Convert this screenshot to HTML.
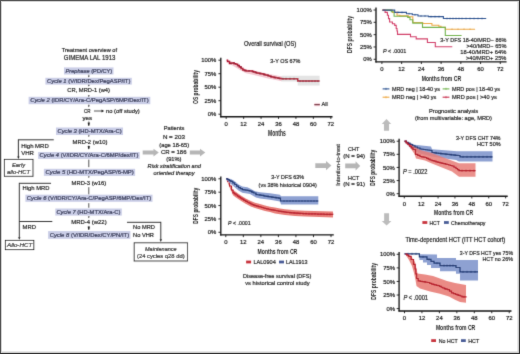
<!DOCTYPE html>
<html><head><meta charset="utf-8"><title>GIMEMA LAL 1913</title>
<style>
html,body{margin:0;padding:0;background:#fff;}
body{width:520px;height:354px;position:relative;overflow:hidden;font-family:"Liberation Sans", sans-serif;}
text{stroke-width:0.2px;}
text[font-weight="bold"]{stroke-width:0;}
</style></head><body>
<svg xmlns="http://www.w3.org/2000/svg" width="520" height="354" viewBox="0 0 520 354" style="position:absolute;left:0;top:0" font-family='"Liberation Sans", sans-serif'>
<defs><filter id="soft" x="0" y="0" width="520" height="354" filterUnits="userSpaceOnUse"><feConvolveMatrix order="3" kernelMatrix="0.01134 0.08382 0.01134 0.08382 0.61935 0.08382 0.01134 0.08382 0.01134" edgeMode="none"/></filter></defs>
<rect x="0" y="0" width="520" height="354" fill="#ffffff"/>
<g filter="url(#soft)">
<rect x="64.00" y="67.40" width="49.50" height="7.10" fill="#cacee7" stroke="none" stroke-width="1.00"/>
<text x="65.60" y="72.90" font-size="5.60" fill="#2f3350" stroke="#2f3350" font-weight="normal" font-style="normal" textLength="46.60" lengthAdjust="spacingAndGlyphs"><tspan font-style="italic">Prephase</tspan><tspan font-style="normal"> (PD/CY)</tspan></text>
<rect x="45.40" y="77.80" width="86.40" height="6.80" fill="#cacee7" stroke="none" stroke-width="1.00"/>
<text x="47.00" y="83.15" font-size="5.60" fill="#2f3350" stroke="#2f3350" font-weight="normal" font-style="normal" textLength="83.40" lengthAdjust="spacingAndGlyphs"><tspan font-style="italic">Cycle 1</tspan><tspan font-style="normal"> (V/IDR/Dex/PegASP/IT)</tspan></text>
<rect x="28.60" y="96.80" width="121.70" height="7.40" fill="#cacee7" stroke="none" stroke-width="1.00"/>
<text x="30.20" y="102.45" font-size="5.60" fill="#2f3350" stroke="#2f3350" font-weight="normal" font-style="normal" textLength="118.40" lengthAdjust="spacingAndGlyphs"><tspan font-style="italic">Cycle 2</tspan><tspan font-style="normal"> (IDR/CY/Ara-C/PegASP/6MP/Dex/IT)</tspan></text>
<rect x="56.00" y="127.50" width="67.00" height="7.50" fill="#cacee7" stroke="none" stroke-width="1.00"/>
<text x="57.50" y="133.20" font-size="5.60" fill="#2f3350" stroke="#2f3350" font-weight="normal" font-style="normal" textLength="64.10" lengthAdjust="spacingAndGlyphs"><tspan font-style="italic">Cycle 3</tspan><tspan font-style="normal"> (HD-MTX/Ara-C)</tspan></text>
<rect x="38.10" y="152.00" width="101.60" height="6.90" fill="#cacee7" stroke="none" stroke-width="1.00"/>
<text x="39.50" y="157.40" font-size="5.60" fill="#2f3350" stroke="#2f3350" font-weight="normal" font-style="normal" textLength="98.90" lengthAdjust="spacingAndGlyphs"><tspan font-style="italic">Cycle 4</tspan><tspan font-style="normal"> (V/IDR/CY/Ara-C/6MP/dex/IT)</tspan></text>
<rect x="43.90" y="168.80" width="91.20" height="7.10" fill="#cacee7" stroke="none" stroke-width="1.00"/>
<text x="45.40" y="174.30" font-size="5.60" fill="#2f3350" stroke="#2f3350" font-weight="normal" font-style="normal" textLength="88.40" lengthAdjust="spacingAndGlyphs"><tspan font-style="italic">Cycle 5</tspan><tspan font-style="normal"> (HD-MTX/PegASP/6-MP)</tspan></text>
<rect x="25.40" y="194.70" width="127.10" height="7.10" fill="#cacee7" stroke="none" stroke-width="1.00"/>
<text x="26.80" y="200.20" font-size="5.60" fill="#2f3350" stroke="#2f3350" font-weight="normal" font-style="normal" textLength="124.40" lengthAdjust="spacingAndGlyphs"><tspan font-style="italic">Cycle 6</tspan><tspan font-style="normal"> (V/IDR/CY/Ara-C/PegASP/6MP/Dex/IT)</tspan></text>
<rect x="55.30" y="208.50" width="66.50" height="7.10" fill="#cacee7" stroke="none" stroke-width="1.00"/>
<text x="56.40" y="214.00" font-size="5.60" fill="#2f3350" stroke="#2f3350" font-weight="normal" font-style="normal" textLength="64.10" lengthAdjust="spacingAndGlyphs"><tspan font-style="italic">Cycle 7</tspan><tspan font-style="normal"> (HD-MTX/Ara-C)</tspan></text>
<rect x="48.10" y="231.10" width="82.30" height="7.70" fill="#cacee7" stroke="none" stroke-width="1.00"/>
<text x="49.70" y="236.90" font-size="5.60" fill="#2f3350" stroke="#2f3350" font-weight="normal" font-style="normal" textLength="79.40" lengthAdjust="spacingAndGlyphs"><tspan font-style="italic">Cycle 8</tspan><tspan font-style="normal"> (V/IDR/Dex/CY/PN/IT)</tspan></text>
<text x="61.80" y="52.10" font-size="5.80" fill="#262626" stroke="#262626" font-weight="normal" font-style="normal" textLength="55.20" lengthAdjust="spacingAndGlyphs">Treatment overview of</text>
<text x="63.80" y="59.60" font-size="6.60" fill="#262626" stroke="#262626" font-weight="normal" font-style="normal" textLength="51.60" lengthAdjust="spacingAndGlyphs">GIMEMA LAL 1913</text>
<text x="67.30" y="92.20" font-size="5.85" fill="#262626" stroke="#262626" font-weight="normal" font-style="normal" textLength="42.70" lengthAdjust="spacingAndGlyphs">CR, MRD-1 (w4)</text>
<text x="84.00" y="113.20" font-size="5.85" fill="#262626" stroke="#262626" font-weight="normal" font-style="normal" textLength="6.50" lengthAdjust="spacingAndGlyphs">CR</text>
<line x1="94.00" y1="111.00" x2="102.00" y2="111.00" stroke="#262626" stroke-width="0.80"/>
<polygon points="101.50,109.60 104.20,111.00 101.50,112.40" fill="#262626"/>
<text x="106.00" y="113.20" font-size="5.85" fill="#262626" stroke="#262626" font-weight="normal" font-style="normal" textLength="33.80" lengthAdjust="spacingAndGlyphs">no (off study)</text>
<text x="82.50" y="120.00" font-size="5.85" fill="#262626" stroke="#262626" font-weight="normal" font-style="normal" textLength="9.50" lengthAdjust="spacingAndGlyphs">yes</text>
<text x="72.50" y="144.20" font-size="5.85" fill="#262626" stroke="#262626" font-weight="normal" font-style="normal" textLength="35.00" lengthAdjust="spacingAndGlyphs">MRD-2 (w10)</text>
<text x="71.60" y="185.30" font-size="5.85" fill="#262626" stroke="#262626" font-weight="normal" font-style="normal" textLength="34.60" lengthAdjust="spacingAndGlyphs">MRD-3 (w16)</text>
<text x="71.20" y="223.90" font-size="5.85" fill="#262626" stroke="#262626" font-weight="normal" font-style="normal" textLength="35.50" lengthAdjust="spacingAndGlyphs">MRD-4 (w22)</text>
<line x1="88.80" y1="74.70" x2="88.80" y2="76.20" stroke="#444" stroke-width="0.70"/>
<polygon points="87.80,75.80 89.80,75.80 88.80,77.40" fill="#444"/>
<line x1="88.80" y1="84.50" x2="88.80" y2="85.40" stroke="#444" stroke-width="0.70"/>
<polygon points="87.80,85.00 89.80,85.00 88.80,86.60" fill="#444"/>
<line x1="88.80" y1="95.00" x2="88.80" y2="96.00" stroke="#444" stroke-width="0.70"/>
<polygon points="87.80,95.60 89.80,95.60 88.80,97.20" fill="#444"/>
<line x1="88.80" y1="104.50" x2="88.80" y2="106.00" stroke="#444" stroke-width="0.70"/>
<polygon points="87.80,105.60 89.80,105.60 88.80,107.20" fill="#444"/>
<line x1="88.80" y1="120.80" x2="88.80" y2="123.50" stroke="#777" stroke-width="0.60"/>
<polygon points="87.70,122.60 89.90,122.60 89.40,125.40 88.80,126.00 88.20,125.40" fill="#222"/>
<line x1="88.80" y1="134.80" x2="88.80" y2="135.80" stroke="#444" stroke-width="0.70"/>
<polygon points="87.80,135.40 89.80,135.40 88.80,137.00" fill="#444"/>
<line x1="88.80" y1="145.20" x2="88.80" y2="146.80" stroke="#777" stroke-width="0.60"/>
<polygon points="87.70,145.90 89.90,145.90 89.40,148.70 88.80,149.30 88.20,148.70" fill="#222"/>
<line x1="88.80" y1="159.50" x2="88.80" y2="167.20" stroke="#555" stroke-width="1.00"/>
<line x1="88.80" y1="175.90" x2="88.80" y2="176.80" stroke="#444" stroke-width="0.70"/>
<polygon points="87.80,176.40 89.80,176.40 88.80,178.00" fill="#444"/>
<line x1="88.80" y1="187.20" x2="88.80" y2="194.40" stroke="#555" stroke-width="1.00"/>
<line x1="88.80" y1="203.20" x2="88.80" y2="207.80" stroke="#555" stroke-width="1.00"/>
<line x1="88.80" y1="216.20" x2="88.80" y2="217.00" stroke="#444" stroke-width="0.70"/>
<polygon points="87.80,216.60 89.80,216.60 88.80,218.20" fill="#444"/>
<line x1="88.80" y1="225.80" x2="88.80" y2="227.50" stroke="#777" stroke-width="0.60"/>
<polygon points="87.70,226.60 89.90,226.60 89.40,229.40 88.80,230.00 88.20,229.40" fill="#222"/>
<line x1="18.40" y1="139.80" x2="53.80" y2="139.80" stroke="#222" stroke-width="0.90"/>
<line x1="18.40" y1="139.35" x2="18.40" y2="157.00" stroke="#222" stroke-width="0.90"/>
<polygon points="17.20,156.60 19.60,156.60 18.40,159.00" fill="#222"/>
<rect x="4.40" y="159.40" width="28.60" height="16.90" fill="#ffffff" stroke="#222" stroke-width="0.90"/>
<text x="21.20" y="148.10" font-size="5.85" fill="#262626" stroke="#262626" font-weight="normal" font-style="normal" textLength="27.50" lengthAdjust="spacingAndGlyphs">High MRD</text>
<text x="21.20" y="155.00" font-size="5.85" fill="#262626" stroke="#262626" font-weight="normal" font-style="normal" textLength="12.70" lengthAdjust="spacingAndGlyphs">VHR</text>
<text x="12.00" y="166.80" font-size="5.85" fill="#262626" stroke="#262626" font-weight="normal" font-style="italic" textLength="13.20" lengthAdjust="spacingAndGlyphs">Early</text>
<text x="7.00" y="173.60" font-size="5.85" fill="#262626" stroke="#262626" font-weight="normal" font-style="italic" textLength="23.20" lengthAdjust="spacingAndGlyphs">allo-HCT</text>
<line x1="19.30" y1="183.30" x2="51.00" y2="183.30" stroke="#222" stroke-width="0.90"/>
<line x1="19.30" y1="182.85" x2="19.30" y2="237.60" stroke="#222" stroke-width="0.90"/>
<line x1="19.30" y1="221.50" x2="52.30" y2="221.50" stroke="#222" stroke-width="0.90"/>
<polygon points="18.10,237.20 20.50,237.20 19.30,239.80" fill="#222"/>
<text x="22.60" y="190.10" font-size="5.85" fill="#262626" stroke="#262626" font-weight="normal" font-style="normal" textLength="26.80" lengthAdjust="spacingAndGlyphs">High MRD</text>
<text x="22.60" y="228.70" font-size="5.85" fill="#262626" stroke="#262626" font-weight="normal" font-style="normal" textLength="13.40" lengthAdjust="spacingAndGlyphs">MRD</text>
<rect x="5.40" y="240.40" width="28.40" height="9.20" fill="#ffffff" stroke="#222" stroke-width="0.90"/>
<text x="7.00" y="247.40" font-size="5.85" fill="#262626" stroke="#262626" font-weight="normal" font-style="italic" textLength="25.20" lengthAdjust="spacingAndGlyphs">Allo-HCT</text>
<line x1="127.00" y1="222.30" x2="160.80" y2="222.30" stroke="#222" stroke-width="0.90"/>
<line x1="160.80" y1="221.85" x2="160.80" y2="239.60" stroke="#222" stroke-width="0.90"/>
<polygon points="159.60,239.30 162.00,239.30 160.80,241.90" fill="#222"/>
<text x="133.00" y="229.20" font-size="5.85" fill="#262626" stroke="#262626" font-weight="normal" font-style="normal" textLength="22.00" lengthAdjust="spacingAndGlyphs">No MRD</text>
<text x="133.00" y="236.60" font-size="5.85" fill="#262626" stroke="#262626" font-weight="normal" font-style="normal" textLength="21.00" lengthAdjust="spacingAndGlyphs">No VHR</text>
<rect x="134.20" y="242.80" width="53.20" height="18.20" fill="#ffffff" stroke="#222" stroke-width="0.90"/>
<text x="145.00" y="250.60" font-size="5.85" fill="#262626" stroke="#262626" font-weight="normal" font-style="italic" textLength="31.60" lengthAdjust="spacingAndGlyphs">Maintenance</text>
<text x="137.00" y="257.80" font-size="5.85" fill="#262626" stroke="#262626" font-weight="normal" font-style="normal" textLength="47.60" lengthAdjust="spacingAndGlyphs">(24 cycles q28 dd)</text>
<text x="163.70" y="129.90" font-size="6.00" fill="#262626" stroke="#262626" font-weight="normal" font-style="normal" textLength="20.70" lengthAdjust="spacingAndGlyphs">Patients</text>
<text x="162.90" y="139.40" font-size="6.00" fill="#262626" stroke="#262626" font-weight="normal" font-style="normal" textLength="22.00" lengthAdjust="spacingAndGlyphs">N = 203</text>
<text x="159.30" y="146.80" font-size="6.00" fill="#262626" stroke="#262626" font-weight="normal" font-style="normal" textLength="29.80" lengthAdjust="spacingAndGlyphs">(age 18-65)</text>
<text x="160.90" y="153.60" font-size="6.00" fill="#262626" stroke="#262626" font-weight="normal" font-style="normal" textLength="25.70" lengthAdjust="spacingAndGlyphs">CR = 186</text>
<text x="166.30" y="160.90" font-size="6.00" fill="#262626" stroke="#262626" font-weight="normal" font-style="normal" textLength="15.20" lengthAdjust="spacingAndGlyphs">(91%)</text>
<text x="147.60" y="168.00" font-size="6.00" fill="#262626" stroke="#262626" font-weight="normal" font-style="italic" textLength="53.40" lengthAdjust="spacingAndGlyphs">Risk stratification and</text>
<text x="153.60" y="175.00" font-size="6.00" fill="#262626" stroke="#262626" font-weight="normal" font-style="italic" textLength="41.00" lengthAdjust="spacingAndGlyphs">oriented therapy</text>
<polygon points="142.70,150.60 153.50,150.60 153.50,148.70 158.80,152.60 153.50,156.50 153.50,154.60 142.70,154.60" fill="#b6b6b6"/>
<polygon points="189.80,150.60 200.00,150.60 200.00,148.70 205.30,152.60 200.00,156.50 200.00,154.60 189.80,154.60" fill="#b6b6b6"/>
<polygon points="315.30,163.15 326.00,163.15 326.00,160.90 331.40,165.60 326.00,170.30 326.00,168.05 315.30,168.05" fill="#b6b6b6"/>
<polygon points="345.20,163.60 355.60,163.60 355.60,161.30 360.20,165.90 355.60,170.50 355.60,168.20 345.20,168.20" fill="#b6b6b6"/>
<polygon points="386.50,118.90 391.20,124.00 389.05,124.00 389.05,130.80 383.95,130.80 383.95,124.00 381.80,124.00" fill="#bcbcbc"/>
<polygon points="384.15,213.30 389.05,213.30 389.05,220.90 391.40,220.90 386.60,225.50 381.80,220.90 384.15,220.90" fill="#bcbcbc"/>
<text x="243.90" y="45.90" font-size="6.40" fill="#262626" stroke="#262626" font-weight="normal" font-style="normal" textLength="52.30" lengthAdjust="spacingAndGlyphs">Overall survival (OS)</text>
<line x1="220.80" y1="57.80" x2="220.80" y2="117.30" stroke="#161616" stroke-width="1.35"/>
<line x1="220.20" y1="116.70" x2="332.50" y2="116.70" stroke="#161616" stroke-width="1.35"/>
<line x1="218.40" y1="60.20" x2="220.80" y2="60.20" stroke="#161616" stroke-width="0.90"/>
<text x="216.30" y="62.30" font-size="5.90" fill="#222" stroke="#222" text-anchor="end">100%</text>
<line x1="218.40" y1="73.70" x2="220.80" y2="73.70" stroke="#161616" stroke-width="0.90"/>
<text x="216.30" y="75.80" font-size="5.90" fill="#222" stroke="#222" text-anchor="end">75%</text>
<line x1="218.40" y1="87.20" x2="220.80" y2="87.20" stroke="#161616" stroke-width="0.90"/>
<text x="216.30" y="89.30" font-size="5.90" fill="#222" stroke="#222" text-anchor="end">50%</text>
<line x1="218.40" y1="100.70" x2="220.80" y2="100.70" stroke="#161616" stroke-width="0.90"/>
<text x="216.30" y="102.80" font-size="5.90" fill="#222" stroke="#222" text-anchor="end">25%</text>
<line x1="218.40" y1="114.20" x2="220.80" y2="114.20" stroke="#161616" stroke-width="0.90"/>
<text x="216.30" y="116.30" font-size="5.90" fill="#222" stroke="#222" text-anchor="end">0%</text>
<line x1="226.20" y1="116.70" x2="226.20" y2="118.90" stroke="#161616" stroke-width="0.90"/>
<text x="226.20" y="126.20" font-size="5.90" fill="#222" stroke="#222" text-anchor="middle">0</text>
<line x1="243.63" y1="116.70" x2="243.63" y2="118.90" stroke="#161616" stroke-width="0.90"/>
<text x="243.63" y="126.20" font-size="5.90" fill="#222" stroke="#222" text-anchor="middle">12</text>
<line x1="261.07" y1="116.70" x2="261.07" y2="118.90" stroke="#161616" stroke-width="0.90"/>
<text x="261.07" y="126.20" font-size="5.90" fill="#222" stroke="#222" text-anchor="middle">24</text>
<line x1="278.50" y1="116.70" x2="278.50" y2="118.90" stroke="#161616" stroke-width="0.90"/>
<text x="278.50" y="126.20" font-size="5.90" fill="#222" stroke="#222" text-anchor="middle">36</text>
<line x1="295.93" y1="116.70" x2="295.93" y2="118.90" stroke="#161616" stroke-width="0.90"/>
<text x="295.93" y="126.20" font-size="5.90" fill="#222" stroke="#222" text-anchor="middle">48</text>
<line x1="313.37" y1="116.70" x2="313.37" y2="118.90" stroke="#161616" stroke-width="0.90"/>
<text x="313.37" y="126.20" font-size="5.90" fill="#222" stroke="#222" text-anchor="middle">60</text>
<line x1="330.80" y1="116.70" x2="330.80" y2="118.90" stroke="#161616" stroke-width="0.90"/>
<text x="330.80" y="126.20" font-size="5.90" fill="#222" stroke="#222" text-anchor="middle">72</text>
<text transform="translate(197.70,87.00) rotate(-90)" x="-16.90" y="0" font-size="7.40" fill="#222" stroke="#222" font-weight="bold" textLength="33.80" lengthAdjust="spacingAndGlyphs">OS probability</text>
<text x="268.00" y="135.80" font-size="8.30" fill="#222" stroke="#222" font-weight="bold" font-style="normal" textLength="17.70" lengthAdjust="spacingAndGlyphs">Months</text>
<text x="270.30" y="63.30" font-size="6.00" fill="#262626" stroke="#262626" font-weight="normal" font-style="normal" textLength="30.10" lengthAdjust="spacingAndGlyphs">3-Y OS 67%</text>
<polygon points="226.60,59.60 232.00,61.50 240.00,65.80 246.00,69.20 256.00,71.00 268.00,73.80 282.00,76.40 282.00,81.20 268.00,78.60 256.00,75.60 246.00,73.20 240.00,70.00 232.00,65.20 226.60,60.80" fill="#f4c9d2"/>
<polygon points="281.50,75.80 319.60,75.80 319.60,85.60 297.70,85.60 297.70,81.40 281.50,81.40" fill="#e4e4e4"/>
<polyline points="226.60,60.20 227.50,60.20 227.50,61.50 229.50,61.50 229.50,63.40 230.95,63.40 230.95,63.25 232.40,63.25 232.40,63.10 234.10,63.10 234.10,63.65 235.80,63.65 235.80,64.20 237.50,64.20 237.50,65.50 239.30,65.50 239.30,67.10 241.05,67.10 241.05,68.55 242.80,68.55 242.80,70.00 244.50,70.00 244.50,70.45 246.20,70.45 246.20,70.90 247.73,70.90 247.73,70.97 249.27,70.97 249.27,71.03 250.80,71.03 250.80,71.10 252.25,71.10 252.25,71.55 253.70,71.55 253.70,72.00 255.15,72.00 255.15,72.45 256.60,72.45 256.60,72.90 258.05,72.90 258.05,73.18 259.50,73.18 259.50,73.45 260.95,73.45 260.95,73.72 262.40,73.72 262.40,74.00 263.82,74.00 263.82,74.45 265.25,74.45 265.25,74.90 266.68,74.90 266.68,75.35 268.10,75.35 268.10,75.80 269.55,75.80 269.55,76.22 271.00,76.22 271.00,76.65 272.45,76.65 272.45,77.08 273.90,77.08 273.90,77.50 276.00,77.50 276.00,77.80 277.83,77.80 277.83,78.13 279.67,78.13 279.67,78.47 281.50,78.47 281.50,78.80 297.70,78.80 297.70,81.10 319.60,81.10" fill="none" stroke="#b0102e" stroke-width="1.50" stroke-linejoin="miter"/>
<line x1="231.00" y1="62.25" x2="231.00" y2="64.25" stroke="#7a0820" stroke-width="0.70"/>
<line x1="234.00" y1="62.10" x2="234.00" y2="64.10" stroke="#7a0820" stroke-width="0.70"/>
<line x1="238.00" y1="64.50" x2="238.00" y2="66.50" stroke="#7a0820" stroke-width="0.70"/>
<line x1="241.00" y1="66.10" x2="241.00" y2="68.10" stroke="#7a0820" stroke-width="0.70"/>
<line x1="245.00" y1="69.45" x2="245.00" y2="71.45" stroke="#7a0820" stroke-width="0.70"/>
<line x1="249.00" y1="69.97" x2="249.00" y2="71.97" stroke="#7a0820" stroke-width="0.70"/>
<line x1="253.00" y1="70.55" x2="253.00" y2="72.55" stroke="#7a0820" stroke-width="0.70"/>
<line x1="256.00" y1="71.45" x2="256.00" y2="73.45" stroke="#7a0820" stroke-width="0.70"/>
<line x1="260.00" y1="72.45" x2="260.00" y2="74.45" stroke="#7a0820" stroke-width="0.70"/>
<line x1="264.00" y1="73.45" x2="264.00" y2="75.45" stroke="#7a0820" stroke-width="0.70"/>
<line x1="268.00" y1="74.35" x2="268.00" y2="76.35" stroke="#7a0820" stroke-width="0.70"/>
<line x1="271.00" y1="75.65" x2="271.00" y2="77.65" stroke="#7a0820" stroke-width="0.70"/>
<line x1="275.00" y1="76.50" x2="275.00" y2="78.50" stroke="#7a0820" stroke-width="0.70"/>
<line x1="279.00" y1="77.13" x2="279.00" y2="79.13" stroke="#7a0820" stroke-width="0.70"/>
<line x1="283.00" y1="77.80" x2="283.00" y2="79.80" stroke="#7a0820" stroke-width="0.70"/>
<line x1="286.00" y1="77.80" x2="286.00" y2="79.80" stroke="#7a0820" stroke-width="0.70"/>
<line x1="290.00" y1="77.80" x2="290.00" y2="79.80" stroke="#7a0820" stroke-width="0.70"/>
<line x1="294.00" y1="77.80" x2="294.00" y2="79.80" stroke="#7a0820" stroke-width="0.70"/>
<line x1="300.00" y1="80.10" x2="300.00" y2="82.10" stroke="#7a0820" stroke-width="0.70"/>
<line x1="303.00" y1="80.10" x2="303.00" y2="82.10" stroke="#7a0820" stroke-width="0.70"/>
<line x1="306.00" y1="80.10" x2="306.00" y2="82.10" stroke="#7a0820" stroke-width="0.70"/>
<line x1="309.00" y1="80.10" x2="309.00" y2="82.10" stroke="#7a0820" stroke-width="0.70"/>
<line x1="312.00" y1="80.10" x2="312.00" y2="82.10" stroke="#7a0820" stroke-width="0.70"/>
<line x1="315.00" y1="80.10" x2="315.00" y2="82.10" stroke="#7a0820" stroke-width="0.70"/>
<line x1="318.00" y1="80.10" x2="318.00" y2="82.10" stroke="#7a0820" stroke-width="0.70"/>
<rect x="314.20" y="102.90" width="5.80" height="3.40" fill="#f9dde4" stroke="none" stroke-width="1.00"/>
<line x1="314.40" y1="104.60" x2="319.80" y2="104.60" stroke="#701024" stroke-width="1.30"/>
<text x="321.50" y="106.30" font-size="6.00" fill="#262626" stroke="#262626" font-weight="normal" font-style="normal" textLength="6.20" lengthAdjust="spacingAndGlyphs">All</text>
<line x1="220.80" y1="176.40" x2="220.80" y2="235.50" stroke="#161616" stroke-width="1.35"/>
<line x1="220.20" y1="234.90" x2="333.80" y2="234.90" stroke="#161616" stroke-width="1.35"/>
<line x1="218.40" y1="178.80" x2="220.80" y2="178.80" stroke="#161616" stroke-width="0.90"/>
<text x="216.30" y="180.90" font-size="5.90" fill="#222" stroke="#222" text-anchor="end">100%</text>
<line x1="218.40" y1="192.18" x2="220.80" y2="192.18" stroke="#161616" stroke-width="0.90"/>
<text x="216.30" y="194.28" font-size="5.90" fill="#222" stroke="#222" text-anchor="end">75%</text>
<line x1="218.40" y1="205.55" x2="220.80" y2="205.55" stroke="#161616" stroke-width="0.90"/>
<text x="216.30" y="207.65" font-size="5.90" fill="#222" stroke="#222" text-anchor="end">50%</text>
<line x1="218.40" y1="218.93" x2="220.80" y2="218.93" stroke="#161616" stroke-width="0.90"/>
<text x="216.30" y="221.03" font-size="5.90" fill="#222" stroke="#222" text-anchor="end">25%</text>
<line x1="218.40" y1="232.30" x2="220.80" y2="232.30" stroke="#161616" stroke-width="0.90"/>
<text x="216.30" y="234.40" font-size="5.90" fill="#222" stroke="#222" text-anchor="end">0%</text>
<line x1="225.80" y1="234.90" x2="225.80" y2="237.10" stroke="#161616" stroke-width="0.90"/>
<text x="225.80" y="244.30" font-size="5.90" fill="#222" stroke="#222" text-anchor="middle">0</text>
<line x1="243.33" y1="234.90" x2="243.33" y2="237.10" stroke="#161616" stroke-width="0.90"/>
<text x="243.33" y="244.30" font-size="5.90" fill="#222" stroke="#222" text-anchor="middle">12</text>
<line x1="260.87" y1="234.90" x2="260.87" y2="237.10" stroke="#161616" stroke-width="0.90"/>
<text x="260.87" y="244.30" font-size="5.90" fill="#222" stroke="#222" text-anchor="middle">24</text>
<line x1="278.40" y1="234.90" x2="278.40" y2="237.10" stroke="#161616" stroke-width="0.90"/>
<text x="278.40" y="244.30" font-size="5.90" fill="#222" stroke="#222" text-anchor="middle">36</text>
<line x1="295.93" y1="234.90" x2="295.93" y2="237.10" stroke="#161616" stroke-width="0.90"/>
<text x="295.93" y="244.30" font-size="5.90" fill="#222" stroke="#222" text-anchor="middle">48</text>
<line x1="313.47" y1="234.90" x2="313.47" y2="237.10" stroke="#161616" stroke-width="0.90"/>
<text x="313.47" y="244.30" font-size="5.90" fill="#222" stroke="#222" text-anchor="middle">60</text>
<line x1="331.00" y1="234.90" x2="331.00" y2="237.10" stroke="#161616" stroke-width="0.90"/>
<text x="331.00" y="244.30" font-size="5.90" fill="#222" stroke="#222" text-anchor="middle">72</text>
<text transform="translate(197.50,205.70) rotate(-90)" x="-18.00" y="0" font-size="7.40" fill="#222" stroke="#222" font-weight="bold" textLength="36.00" lengthAdjust="spacingAndGlyphs">DFS probability</text>
<text x="257.50" y="253.90" font-size="7.80" fill="#222" stroke="#222" font-weight="bold" font-style="normal" textLength="39.80" lengthAdjust="spacingAndGlyphs">Months from CR</text>
<text x="271.30" y="179.40" font-size="6.10" fill="#262626" stroke="#262626" font-weight="normal" font-style="normal" textLength="32.70" lengthAdjust="spacingAndGlyphs">3-Y DFS 63%</text>
<text x="258.60" y="186.60" font-size="6.10" fill="#262626" stroke="#262626" font-weight="normal" font-style="normal" textLength="58.20" lengthAdjust="spacingAndGlyphs">(vs 38% historical 0904)</text>
<text x="228.10" y="225.20" font-size="6.00" fill="#262626" stroke="#262626" font-weight="normal" font-style="normal" textLength="22.60" lengthAdjust="spacingAndGlyphs"><tspan font-style="italic">P</tspan><tspan font-style="normal"> &lt; .0001</tspan></text>
<polygon points="226.10,178.30 227.70,180.20 229.60,184.80 231.50,188.80 233.00,189.90 236.00,192.10 239.00,194.30 242.00,196.30 245.70,198.50 250.80,201.10 255.00,202.70 260.00,204.10 265.00,205.60 270.00,206.70 275.00,207.60 280.00,208.40 285.00,209.30 295.00,210.20 305.00,210.80 333.00,211.60 333.00,217.40 305.00,216.60 295.00,216.00 285.00,215.10 280.00,214.20 275.00,213.40 270.00,212.00 265.00,210.90 260.00,209.40 255.00,208.00 250.80,206.40 245.70,203.80 242.00,201.60 239.00,199.60 236.00,197.40 233.00,195.20 231.50,191.40 229.60,187.40 227.70,182.80 226.10,179.30" fill="#e87e78"/>
<polyline points="226.10,178.80 227.70,178.80 227.70,181.40 229.60,181.40 229.60,186.00 231.50,186.00 231.50,190.00 233.00,190.00 233.00,192.80 234.50,192.80 234.50,193.90 236.00,193.90 236.00,195.00 237.50,195.00 237.50,196.10 239.00,196.10 239.00,197.20 240.50,197.20 240.50,198.20 242.00,198.20 242.00,199.20 243.85,199.20 243.85,200.30 245.70,200.30 245.70,201.40 247.40,201.40 247.40,202.27 249.10,202.27 249.10,203.13 250.80,203.13 250.80,204.00 252.20,204.00 252.20,204.53 253.60,204.53 253.60,205.07 255.00,205.07 255.00,205.60 256.67,205.60 256.67,206.07 258.33,206.07 258.33,206.53 260.00,206.53 260.00,207.00 261.67,207.00 261.67,207.50 263.33,207.50 263.33,208.00 265.00,208.00 265.00,208.50 266.67,208.50 266.67,208.87 268.33,208.87 268.33,209.23 270.00,209.23 270.00,209.60 271.67,209.60 271.67,209.90 273.33,209.90 273.33,210.20 275.00,210.20 275.00,210.50 276.67,210.50 276.67,210.77 278.33,210.77 278.33,211.03 280.00,211.03 280.00,211.30 281.67,211.30 281.67,211.60 283.33,211.60 283.33,211.90 285.00,211.90 285.00,212.20 286.67,212.20 286.67,212.35 288.33,212.35 288.33,212.50 290.00,212.50 290.00,212.65 291.67,212.65 291.67,212.80 293.33,212.80 293.33,212.95 295.00,212.95 295.00,213.10 296.67,213.10 296.67,213.20 298.33,213.20 298.33,213.30 300.00,213.30 300.00,213.40 301.67,213.40 301.67,213.50 303.33,213.50 303.33,213.60 305.00,213.60 305.00,213.70 306.56,213.70 306.56,213.74 308.11,213.74 308.11,213.79 309.67,213.79 309.67,213.83 311.22,213.83 311.22,213.88 312.78,213.88 312.78,213.92 314.33,213.92 314.33,213.97 315.89,213.97 315.89,214.01 317.44,214.01 317.44,214.06 319.00,214.06 319.00,214.10 320.56,214.10 320.56,214.14 322.11,214.14 322.11,214.19 323.67,214.19 323.67,214.23 325.22,214.23 325.22,214.28 326.78,214.28 326.78,214.32 328.33,214.32 328.33,214.37 329.89,214.37 329.89,214.41 331.44,214.41 331.44,214.46 333.00,214.46 333.00,214.50" fill="none" stroke="#b51227" stroke-width="1.20" stroke-linejoin="miter"/>
<line x1="290.00" y1="211.65" x2="290.00" y2="213.65" stroke="#b51227" stroke-width="0.60"/>
<line x1="294.00" y1="211.95" x2="294.00" y2="213.95" stroke="#b51227" stroke-width="0.60"/>
<line x1="297.00" y1="212.20" x2="297.00" y2="214.20" stroke="#b51227" stroke-width="0.60"/>
<line x1="300.00" y1="212.40" x2="300.00" y2="214.40" stroke="#b51227" stroke-width="0.60"/>
<line x1="303.00" y1="212.50" x2="303.00" y2="214.50" stroke="#b51227" stroke-width="0.60"/>
<line x1="306.00" y1="212.70" x2="306.00" y2="214.70" stroke="#b51227" stroke-width="0.60"/>
<line x1="309.00" y1="212.79" x2="309.00" y2="214.79" stroke="#b51227" stroke-width="0.60"/>
<line x1="312.00" y1="212.88" x2="312.00" y2="214.88" stroke="#b51227" stroke-width="0.60"/>
<line x1="315.00" y1="212.97" x2="315.00" y2="214.97" stroke="#b51227" stroke-width="0.60"/>
<line x1="318.00" y1="213.06" x2="318.00" y2="215.06" stroke="#b51227" stroke-width="0.60"/>
<line x1="321.00" y1="213.14" x2="321.00" y2="215.14" stroke="#b51227" stroke-width="0.60"/>
<line x1="324.00" y1="213.23" x2="324.00" y2="215.23" stroke="#b51227" stroke-width="0.60"/>
<line x1="327.00" y1="213.32" x2="327.00" y2="215.32" stroke="#b51227" stroke-width="0.60"/>
<line x1="330.00" y1="213.41" x2="330.00" y2="215.41" stroke="#b51227" stroke-width="0.60"/>
<polygon points="226.10,178.20 231.00,179.00 235.00,181.50 238.50,184.60 242.30,186.40 247.40,187.30 250.00,188.60 255.00,191.30 260.00,192.30 270.00,193.30 280.00,194.80 281.00,196.30 318.30,196.30 318.30,204.60 281.00,204.60 280.00,201.50 270.00,199.80 260.00,198.60 256.00,197.60 250.00,194.00 242.30,192.80 238.50,190.60 235.00,187.60 231.00,184.00 226.10,179.40" fill="#8ea1d2"/>
<polyline points="226.10,178.80 227.70,178.80 227.70,179.67 229.30,179.67 229.30,180.53 230.90,180.53 230.90,181.40 232.80,181.40 232.80,182.95 234.70,182.95 234.70,184.50 236.60,184.50 236.60,186.10 238.50,186.10 238.50,187.70 240.40,187.70 240.40,188.65 242.30,188.65 242.30,189.60 244.00,189.60 244.00,189.83 245.70,189.83 245.70,190.07 247.40,190.07 247.40,190.30 248.70,190.30 248.70,190.70 250.00,190.70 250.00,191.10 251.90,191.10 251.90,192.05 253.80,192.05 253.80,193.00 256.00,193.00 256.00,194.50 257.37,194.50 257.37,194.73 258.73,194.73 258.73,194.97 260.10,194.97 260.10,195.20 261.70,195.20 261.70,195.47 263.30,195.47 263.30,195.75 264.90,195.75 264.90,196.03 266.50,196.03 266.50,196.30 268.25,196.30 268.25,196.60 270.00,196.60 270.00,196.90 271.67,196.90 271.67,197.13 273.33,197.13 273.33,197.37 275.00,197.37 275.00,197.60 276.83,197.60 276.83,197.83 278.67,197.83 278.67,198.07 280.50,198.07 280.50,198.30 280.50,201.00 318.30,201.00" fill="none" stroke="#163470" stroke-width="1.20" stroke-linejoin="miter"/>
<line x1="252.00" y1="191.05" x2="252.00" y2="193.05" stroke="#163470" stroke-width="0.60"/>
<line x1="256.00" y1="193.50" x2="256.00" y2="195.50" stroke="#163470" stroke-width="0.60"/>
<line x1="260.00" y1="193.97" x2="260.00" y2="195.97" stroke="#163470" stroke-width="0.60"/>
<line x1="264.00" y1="194.75" x2="264.00" y2="196.75" stroke="#163470" stroke-width="0.60"/>
<line x1="268.00" y1="195.30" x2="268.00" y2="197.30" stroke="#163470" stroke-width="0.60"/>
<line x1="272.00" y1="196.13" x2="272.00" y2="198.13" stroke="#163470" stroke-width="0.60"/>
<line x1="276.00" y1="196.60" x2="276.00" y2="198.60" stroke="#163470" stroke-width="0.60"/>
<line x1="279.00" y1="197.07" x2="279.00" y2="199.07" stroke="#163470" stroke-width="0.60"/>
<line x1="284.00" y1="200.00" x2="284.00" y2="202.00" stroke="#163470" stroke-width="0.60"/>
<line x1="287.00" y1="200.00" x2="287.00" y2="202.00" stroke="#163470" stroke-width="0.60"/>
<line x1="290.00" y1="200.00" x2="290.00" y2="202.00" stroke="#163470" stroke-width="0.60"/>
<line x1="293.00" y1="200.00" x2="293.00" y2="202.00" stroke="#163470" stroke-width="0.60"/>
<line x1="296.00" y1="200.00" x2="296.00" y2="202.00" stroke="#163470" stroke-width="0.60"/>
<line x1="299.00" y1="200.00" x2="299.00" y2="202.00" stroke="#163470" stroke-width="0.60"/>
<line x1="302.00" y1="200.00" x2="302.00" y2="202.00" stroke="#163470" stroke-width="0.60"/>
<line x1="305.00" y1="200.00" x2="305.00" y2="202.00" stroke="#163470" stroke-width="0.60"/>
<line x1="308.00" y1="200.00" x2="308.00" y2="202.00" stroke="#163470" stroke-width="0.60"/>
<line x1="311.00" y1="200.00" x2="311.00" y2="202.00" stroke="#163470" stroke-width="0.60"/>
<line x1="314.00" y1="200.00" x2="314.00" y2="202.00" stroke="#163470" stroke-width="0.60"/>
<line x1="317.00" y1="200.00" x2="317.00" y2="202.00" stroke="#163470" stroke-width="0.60"/>
<rect x="246.10" y="260.60" width="5.00" height="2.80" fill="#c8343e" stroke="none" stroke-width="1.00"/>
<text x="253.40" y="264.00" font-size="6.10" fill="#262626" stroke="#262626" font-weight="normal" font-style="normal" textLength="22.40" lengthAdjust="spacingAndGlyphs">LAL0904</text>
<rect x="279.00" y="260.60" width="5.00" height="2.80" fill="#4a5c96" stroke="none" stroke-width="1.00"/>
<text x="285.90" y="264.00" font-size="6.10" fill="#262626" stroke="#262626" font-weight="normal" font-style="normal" textLength="21.60" lengthAdjust="spacingAndGlyphs">LAL1913</text>
<text x="242.90" y="278.30" font-size="5.90" fill="#262626" stroke="#262626" font-weight="normal" font-style="normal" textLength="68.40" lengthAdjust="spacingAndGlyphs">Disease-free survival (DFS)</text>
<text x="245.20" y="284.80" font-size="5.90" fill="#262626" stroke="#262626" font-weight="normal" font-style="normal" textLength="64.40" lengthAdjust="spacingAndGlyphs">vs historical control study</text>
<line x1="376.00" y1="7.60" x2="376.00" y2="62.40" stroke="#161616" stroke-width="1.35"/>
<line x1="375.40" y1="61.80" x2="506.60" y2="61.80" stroke="#161616" stroke-width="1.35"/>
<line x1="373.60" y1="10.00" x2="376.00" y2="10.00" stroke="#161616" stroke-width="0.90"/>
<text x="371.70" y="12.10" font-size="5.90" fill="#222" stroke="#222" text-anchor="end">100%</text>
<line x1="373.60" y1="22.32" x2="376.00" y2="22.32" stroke="#161616" stroke-width="0.90"/>
<text x="371.70" y="24.43" font-size="5.90" fill="#222" stroke="#222" text-anchor="end">75%</text>
<line x1="373.60" y1="34.65" x2="376.00" y2="34.65" stroke="#161616" stroke-width="0.90"/>
<text x="371.70" y="36.75" font-size="5.90" fill="#222" stroke="#222" text-anchor="end">50%</text>
<line x1="373.60" y1="46.97" x2="376.00" y2="46.97" stroke="#161616" stroke-width="0.90"/>
<text x="371.70" y="49.07" font-size="5.90" fill="#222" stroke="#222" text-anchor="end">25%</text>
<line x1="373.60" y1="59.30" x2="376.00" y2="59.30" stroke="#161616" stroke-width="0.90"/>
<text x="371.70" y="61.40" font-size="5.90" fill="#222" stroke="#222" text-anchor="end">0%</text>
<line x1="381.90" y1="61.80" x2="381.90" y2="64.00" stroke="#161616" stroke-width="0.90"/>
<text x="381.90" y="71.00" font-size="5.90" fill="#222" stroke="#222" text-anchor="middle">0</text>
<line x1="401.63" y1="61.80" x2="401.63" y2="64.00" stroke="#161616" stroke-width="0.90"/>
<text x="401.63" y="71.00" font-size="5.90" fill="#222" stroke="#222" text-anchor="middle">12</text>
<line x1="421.37" y1="61.80" x2="421.37" y2="64.00" stroke="#161616" stroke-width="0.90"/>
<text x="421.37" y="71.00" font-size="5.90" fill="#222" stroke="#222" text-anchor="middle">24</text>
<line x1="441.10" y1="61.80" x2="441.10" y2="64.00" stroke="#161616" stroke-width="0.90"/>
<text x="441.10" y="71.00" font-size="5.90" fill="#222" stroke="#222" text-anchor="middle">36</text>
<line x1="460.83" y1="61.80" x2="460.83" y2="64.00" stroke="#161616" stroke-width="0.90"/>
<text x="460.83" y="71.00" font-size="5.90" fill="#222" stroke="#222" text-anchor="middle">48</text>
<line x1="480.57" y1="61.80" x2="480.57" y2="64.00" stroke="#161616" stroke-width="0.90"/>
<text x="480.57" y="71.00" font-size="5.90" fill="#222" stroke="#222" text-anchor="middle">60</text>
<line x1="500.30" y1="61.80" x2="500.30" y2="64.00" stroke="#161616" stroke-width="0.90"/>
<text x="500.30" y="71.00" font-size="5.90" fill="#222" stroke="#222" text-anchor="middle">72</text>
<text transform="translate(352.40,34.50) rotate(-90)" x="-18.45" y="0" font-size="7.30" fill="#222" stroke="#222" font-weight="bold" textLength="36.90" lengthAdjust="spacingAndGlyphs">DFS probability</text>
<text x="421.70" y="80.70" font-size="7.70" fill="#222" stroke="#222" font-weight="bold" font-style="normal" textLength="39.40" lengthAdjust="spacingAndGlyphs">Months from CR</text>
<text x="382.90" y="52.70" font-size="6.00" fill="#262626" stroke="#262626" font-weight="normal" font-style="normal" textLength="23.30" lengthAdjust="spacingAndGlyphs"><tspan font-style="italic">P</tspan><tspan font-style="normal"> &lt; .0001</tspan></text>
<polyline points="382.50,10.10 392.40,10.10 392.40,12.40 397.00,12.40 397.00,15.20 399.80,15.20 399.80,15.90 408.30,15.90 408.30,16.80 412.80,16.80 412.80,22.50 422.70,22.50 422.70,23.50 431.90,23.50 431.90,25.20 438.80,25.20 438.80,26.30 441.00,26.30 441.00,27.30 445.30,27.30 445.30,29.20 475.10,29.20" fill="none" stroke="#eea844" stroke-width="1.10" stroke-linejoin="miter"/>
<polyline points="382.50,10.10 391.30,10.10 391.30,11.80 394.10,11.80 394.10,16.30 407.70,16.30 407.70,17.40 410.00,17.40 410.00,19.70 412.80,19.70 412.80,23.10 422.50,23.10 422.50,27.40 445.30,27.40 445.30,35.50 461.60,35.50" fill="none" stroke="#72b44e" stroke-width="1.10" stroke-linejoin="miter"/>
<polyline points="382.50,10.10 385.10,10.10 385.10,12.40 387.40,12.40 387.40,15.20 388.50,15.20 388.50,18.60 389.60,18.60 389.60,22.00 392.40,22.00 392.40,23.70 394.70,23.70 394.70,25.40 396.20,25.40 396.20,28.50 397.00,28.50 397.00,31.00 397.50,31.00 397.50,34.40 410.50,34.40 410.50,36.70 416.20,36.70 416.20,38.90 427.40,38.90 427.40,42.50 435.30,42.50 435.30,46.80 452.30,46.80" fill="none" stroke="#d2406a" stroke-width="1.10" stroke-linejoin="miter"/>
<polyline points="382.50,10.10 394.70,10.10 394.70,12.40 406.50,12.40 406.50,13.70 412.30,13.70 412.30,14.80 418.00,14.80 418.00,16.00 428.40,16.00 428.40,16.60 443.40,16.60 443.40,18.50 486.20,18.50" fill="none" stroke="#2d5492" stroke-width="1.10" stroke-linejoin="miter"/>
<line x1="398.00" y1="11.50" x2="398.00" y2="13.30" stroke="#1d3f80" stroke-width="0.60"/>
<line x1="402.00" y1="11.50" x2="402.00" y2="13.30" stroke="#1d3f80" stroke-width="0.60"/>
<line x1="409.00" y1="12.80" x2="409.00" y2="14.60" stroke="#1d3f80" stroke-width="0.60"/>
<line x1="415.00" y1="13.90" x2="415.00" y2="15.70" stroke="#1d3f80" stroke-width="0.60"/>
<line x1="421.00" y1="15.10" x2="421.00" y2="16.90" stroke="#1d3f80" stroke-width="0.60"/>
<line x1="425.00" y1="15.10" x2="425.00" y2="16.90" stroke="#1d3f80" stroke-width="0.60"/>
<line x1="431.00" y1="15.70" x2="431.00" y2="17.50" stroke="#1d3f80" stroke-width="0.60"/>
<line x1="435.00" y1="15.70" x2="435.00" y2="17.50" stroke="#1d3f80" stroke-width="0.60"/>
<line x1="439.00" y1="15.70" x2="439.00" y2="17.50" stroke="#1d3f80" stroke-width="0.60"/>
<line x1="447.00" y1="17.60" x2="447.00" y2="19.40" stroke="#1d3f80" stroke-width="0.60"/>
<line x1="450.00" y1="17.60" x2="450.00" y2="19.40" stroke="#1d3f80" stroke-width="0.60"/>
<line x1="453.00" y1="17.60" x2="453.00" y2="19.40" stroke="#1d3f80" stroke-width="0.60"/>
<line x1="456.00" y1="17.60" x2="456.00" y2="19.40" stroke="#1d3f80" stroke-width="0.60"/>
<line x1="459.00" y1="17.60" x2="459.00" y2="19.40" stroke="#1d3f80" stroke-width="0.60"/>
<line x1="462.00" y1="17.60" x2="462.00" y2="19.40" stroke="#1d3f80" stroke-width="0.60"/>
<line x1="466.00" y1="17.60" x2="466.00" y2="19.40" stroke="#1d3f80" stroke-width="0.60"/>
<line x1="470.00" y1="17.60" x2="470.00" y2="19.40" stroke="#1d3f80" stroke-width="0.60"/>
<line x1="474.00" y1="17.60" x2="474.00" y2="19.40" stroke="#1d3f80" stroke-width="0.60"/>
<line x1="478.00" y1="17.60" x2="478.00" y2="19.40" stroke="#1d3f80" stroke-width="0.60"/>
<line x1="482.00" y1="17.60" x2="482.00" y2="19.40" stroke="#1d3f80" stroke-width="0.60"/>
<line x1="452.00" y1="28.40" x2="452.00" y2="30.00" stroke="#d08a20" stroke-width="0.50"/>
<line x1="458.00" y1="28.40" x2="458.00" y2="30.00" stroke="#d08a20" stroke-width="0.50"/>
<line x1="464.00" y1="28.40" x2="464.00" y2="30.00" stroke="#d08a20" stroke-width="0.50"/>
<line x1="470.00" y1="28.40" x2="470.00" y2="30.00" stroke="#d08a20" stroke-width="0.50"/>
<text x="440.30" y="41.90" font-size="6.00" fill="#262626" stroke="#262626" font-weight="normal" font-style="normal" textLength="66.10" lengthAdjust="spacingAndGlyphs">3-Y DFS 18-40/MRD− 86%</text>
<text x="466.60" y="48.20" font-size="6.00" fill="#262626" stroke="#262626" font-weight="normal" font-style="normal" textLength="39.80" lengthAdjust="spacingAndGlyphs">&gt;40/MRD− 65%</text>
<text x="460.20" y="54.40" font-size="6.00" fill="#262626" stroke="#262626" font-weight="normal" font-style="normal" textLength="46.20" lengthAdjust="spacingAndGlyphs">18-40/MRD+ 64%</text>
<text x="465.90" y="60.30" font-size="6.00" fill="#262626" stroke="#262626" font-weight="normal" font-style="normal" textLength="40.50" lengthAdjust="spacingAndGlyphs">&gt;40/MRD+ 25%</text>
<line x1="382.60" y1="88.90" x2="389.40" y2="88.90" stroke="#2d5492" stroke-width="1.10"/>
<line x1="386.00" y1="87.80" x2="386.00" y2="90.00" stroke="#2d5492" stroke-width="0.70"/>
<text x="391.90" y="90.50" font-size="5.90" fill="#262626" stroke="#262626" font-weight="normal" font-style="normal" textLength="48.10" lengthAdjust="spacingAndGlyphs">MRD neg | 18-40 ys</text>
<line x1="442.60" y1="88.90" x2="449.40" y2="88.90" stroke="#72b44e" stroke-width="1.10"/>
<line x1="446.00" y1="87.80" x2="446.00" y2="90.00" stroke="#72b44e" stroke-width="0.70"/>
<text x="451.90" y="90.50" font-size="5.90" fill="#262626" stroke="#262626" font-weight="normal" font-style="normal" textLength="48.10" lengthAdjust="spacingAndGlyphs">MRD pos | 18-40 ys</text>
<line x1="382.60" y1="97.20" x2="389.40" y2="97.20" stroke="#eea844" stroke-width="1.10"/>
<line x1="386.00" y1="96.10" x2="386.00" y2="98.30" stroke="#eea844" stroke-width="0.70"/>
<text x="391.90" y="99.00" font-size="5.90" fill="#262626" stroke="#262626" font-weight="normal" font-style="normal" textLength="44.40" lengthAdjust="spacingAndGlyphs">MRD neg | &gt;40 ys</text>
<line x1="442.60" y1="97.20" x2="449.40" y2="97.20" stroke="#c8304e" stroke-width="1.10"/>
<line x1="446.00" y1="96.10" x2="446.00" y2="98.30" stroke="#c8304e" stroke-width="0.70"/>
<text x="451.90" y="99.00" font-size="5.90" fill="#262626" stroke="#262626" font-weight="normal" font-style="normal" textLength="45.00" lengthAdjust="spacingAndGlyphs">MRD pos | &gt;40 ys</text>
<text x="429.00" y="113.20" font-size="6.00" fill="#262626" stroke="#262626" font-weight="normal" font-style="normal" textLength="49.20" lengthAdjust="spacingAndGlyphs">Prognostic analysis</text>
<text x="414.90" y="120.30" font-size="6.00" fill="#262626" stroke="#262626" font-weight="normal" font-style="normal" textLength="77.10" lengthAdjust="spacingAndGlyphs">(from multivariable: age, MRD)</text>
<text transform="translate(339.90,165.00) rotate(-90)" x="-20.85" y="0" font-size="5.70" fill="#3a3a3a" stroke="#3a3a3a" font-weight="normal" textLength="41.70" lengthAdjust="spacingAndGlyphs">Intention-to-treat</text>
<text x="348.10" y="151.30" font-size="6.00" fill="#262626" stroke="#262626" font-weight="normal" font-style="normal" textLength="11.20" lengthAdjust="spacingAndGlyphs">CHT</text>
<text x="343.20" y="157.90" font-size="6.00" fill="#262626" stroke="#262626" font-weight="normal" font-style="normal" textLength="21.90" lengthAdjust="spacingAndGlyphs">(N = 94)</text>
<text x="348.10" y="179.60" font-size="6.00" fill="#262626" stroke="#262626" font-weight="normal" font-style="normal" textLength="11.20" lengthAdjust="spacingAndGlyphs">HCT</text>
<text x="343.20" y="185.60" font-size="6.00" fill="#262626" stroke="#262626" font-weight="normal" font-style="normal" textLength="21.90" lengthAdjust="spacingAndGlyphs">(N = 91)</text>
<line x1="399.10" y1="138.80" x2="399.10" y2="196.80" stroke="#161616" stroke-width="1.35"/>
<line x1="398.50" y1="196.20" x2="507.70" y2="196.20" stroke="#161616" stroke-width="1.35"/>
<line x1="396.70" y1="141.20" x2="399.10" y2="141.20" stroke="#161616" stroke-width="0.90"/>
<text x="394.80" y="143.30" font-size="5.90" fill="#222" stroke="#222" text-anchor="end">100%</text>
<line x1="396.70" y1="154.32" x2="399.10" y2="154.32" stroke="#161616" stroke-width="0.90"/>
<text x="394.80" y="156.42" font-size="5.90" fill="#222" stroke="#222" text-anchor="end">75%</text>
<line x1="396.70" y1="167.45" x2="399.10" y2="167.45" stroke="#161616" stroke-width="0.90"/>
<text x="394.80" y="169.55" font-size="5.90" fill="#222" stroke="#222" text-anchor="end">50%</text>
<line x1="396.70" y1="180.57" x2="399.10" y2="180.57" stroke="#161616" stroke-width="0.90"/>
<text x="394.80" y="182.67" font-size="5.90" fill="#222" stroke="#222" text-anchor="end">25%</text>
<line x1="396.70" y1="193.70" x2="399.10" y2="193.70" stroke="#161616" stroke-width="0.90"/>
<text x="394.80" y="195.80" font-size="5.90" fill="#222" stroke="#222" text-anchor="end">0%</text>
<line x1="404.30" y1="196.20" x2="404.30" y2="198.40" stroke="#161616" stroke-width="0.90"/>
<text x="404.30" y="205.60" font-size="5.90" fill="#222" stroke="#222" text-anchor="middle">0</text>
<line x1="421.18" y1="196.20" x2="421.18" y2="198.40" stroke="#161616" stroke-width="0.90"/>
<text x="421.18" y="205.60" font-size="5.90" fill="#222" stroke="#222" text-anchor="middle">12</text>
<line x1="438.07" y1="196.20" x2="438.07" y2="198.40" stroke="#161616" stroke-width="0.90"/>
<text x="438.07" y="205.60" font-size="5.90" fill="#222" stroke="#222" text-anchor="middle">24</text>
<line x1="454.95" y1="196.20" x2="454.95" y2="198.40" stroke="#161616" stroke-width="0.90"/>
<text x="454.95" y="205.60" font-size="5.90" fill="#222" stroke="#222" text-anchor="middle">36</text>
<line x1="471.83" y1="196.20" x2="471.83" y2="198.40" stroke="#161616" stroke-width="0.90"/>
<text x="471.83" y="205.60" font-size="5.90" fill="#222" stroke="#222" text-anchor="middle">48</text>
<line x1="488.72" y1="196.20" x2="488.72" y2="198.40" stroke="#161616" stroke-width="0.90"/>
<text x="488.72" y="205.60" font-size="5.90" fill="#222" stroke="#222" text-anchor="middle">60</text>
<line x1="505.60" y1="196.20" x2="505.60" y2="198.40" stroke="#161616" stroke-width="0.90"/>
<text x="505.60" y="205.60" font-size="5.90" fill="#222" stroke="#222" text-anchor="middle">72</text>
<text transform="translate(375.40,167.80) rotate(-90)" x="-18.05" y="0" font-size="7.20" fill="#222" stroke="#222" font-weight="bold" textLength="36.10" lengthAdjust="spacingAndGlyphs">DFS probability</text>
<text x="434.00" y="215.40" font-size="7.80" fill="#222" stroke="#222" font-weight="bold" font-style="normal" textLength="39.00" lengthAdjust="spacingAndGlyphs">Months from CR</text>
<text x="455.90" y="140.40" font-size="6.00" fill="#262626" stroke="#262626" font-weight="normal" font-style="normal" textLength="44.70" lengthAdjust="spacingAndGlyphs">3-Y DFS CHT 74%</text>
<text x="476.90" y="146.40" font-size="6.00" fill="#262626" stroke="#262626" font-weight="normal" font-style="normal" textLength="23.70" lengthAdjust="spacingAndGlyphs">HCT 50%</text>
<text x="403.00" y="174.30" font-size="6.30" fill="#262626" stroke="#262626" font-weight="normal" font-style="normal" textLength="24.40" lengthAdjust="spacingAndGlyphs"><tspan font-style="italic">P</tspan><tspan font-style="normal"> = .0022</tspan></text>
<polygon points="404.50,141.00 410.00,142.50 414.50,144.80 431.00,146.50 432.00,149.30 445.00,150.20 457.00,151.30 492.50,151.30 492.50,161.50 459.00,161.50 456.00,160.00 445.00,158.50 432.00,156.50 420.00,153.50 415.00,151.00 410.00,147.50 404.50,142.00" fill="#8ea1d2"/>
<polygon points="404.50,141.00 410.00,143.00 414.00,146.00 420.00,150.00 430.00,152.50 445.00,158.00 459.00,163.20 475.50,163.20 475.50,176.70 459.00,176.70 452.00,171.50 442.00,167.50 432.00,163.50 425.00,160.50 416.00,158.50 414.50,154.00 410.00,147.50 404.50,142.00" fill="#e87e78" fill-opacity="0.85"/>
<polyline points="404.50,141.20 406.33,141.20 406.33,142.30 408.17,142.30 408.17,143.40 410.00,143.40 410.00,144.50 412.50,144.50 412.50,145.75 415.00,145.75 415.00,147.00 417.50,147.00 417.50,148.00 420.00,148.00 420.00,149.00 421.83,149.00 421.83,149.25 423.67,149.25 423.67,149.50 425.50,149.50 425.50,149.75 427.33,149.75 427.33,150.00 429.17,150.00 429.17,150.25 431.00,150.25 431.00,150.50 432.00,150.50 432.00,152.50 434.17,152.50 434.17,152.78 436.33,152.78 436.33,153.07 438.50,153.07 438.50,153.35 440.67,153.35 440.67,153.63 442.83,153.63 442.83,153.92 445.00,153.92 445.00,154.20 447.17,154.20 447.17,154.42 449.33,154.42 449.33,154.63 451.50,154.63 451.50,154.85 453.67,154.85 453.67,155.07 455.83,155.07 455.83,155.28 458.00,155.28 458.00,155.50 460.00,155.50 460.00,156.90 492.50,156.90" fill="none" stroke="#163470" stroke-width="1.20" stroke-linejoin="miter"/>
<line x1="436.00" y1="151.68" x2="436.00" y2="153.88" stroke="#163470" stroke-width="0.60"/>
<line x1="441.00" y1="152.53" x2="441.00" y2="154.73" stroke="#163470" stroke-width="0.60"/>
<line x1="446.00" y1="153.10" x2="446.00" y2="155.30" stroke="#163470" stroke-width="0.60"/>
<line x1="451.00" y1="153.53" x2="451.00" y2="155.73" stroke="#163470" stroke-width="0.60"/>
<line x1="455.00" y1="153.97" x2="455.00" y2="156.17" stroke="#163470" stroke-width="0.60"/>
<line x1="463.00" y1="155.80" x2="463.00" y2="158.00" stroke="#163470" stroke-width="0.60"/>
<line x1="467.00" y1="155.80" x2="467.00" y2="158.00" stroke="#163470" stroke-width="0.60"/>
<line x1="471.00" y1="155.80" x2="471.00" y2="158.00" stroke="#163470" stroke-width="0.60"/>
<line x1="475.00" y1="155.80" x2="475.00" y2="158.00" stroke="#163470" stroke-width="0.60"/>
<line x1="479.00" y1="155.80" x2="479.00" y2="158.00" stroke="#163470" stroke-width="0.60"/>
<line x1="483.00" y1="155.80" x2="483.00" y2="158.00" stroke="#163470" stroke-width="0.60"/>
<line x1="487.00" y1="155.80" x2="487.00" y2="158.00" stroke="#163470" stroke-width="0.60"/>
<line x1="491.00" y1="155.80" x2="491.00" y2="158.00" stroke="#163470" stroke-width="0.60"/>
<polyline points="404.50,141.20 406.25,141.20 406.25,142.85 408.00,142.85 408.00,144.50 409.67,144.50 409.67,146.17 411.33,146.17 411.33,147.83 413.00,147.83 413.00,149.50 415.50,149.50 415.50,154.30 417.75,154.30 417.75,155.40 420.00,155.40 420.00,156.50 421.67,156.50 421.67,156.83 423.33,156.83 423.33,157.17 425.00,157.17 425.00,157.50 426.67,157.50 426.67,158.33 428.33,158.33 428.33,159.17 430.00,159.17 430.00,160.00 432.00,160.00 432.00,160.60 434.00,160.60 434.00,161.20 436.00,161.20 436.00,161.80 438.00,161.80 438.00,162.30 440.00,162.30 440.00,162.80 442.00,162.80 442.00,163.30 443.67,163.30 443.67,163.70 445.33,163.70 445.33,164.10 447.00,164.10 447.00,164.50 448.67,164.50 448.67,165.00 450.33,165.00 450.33,165.50 452.00,165.50 452.00,166.00 454.00,166.00 454.00,167.25 456.00,167.25 456.00,168.50 457.50,168.50 457.50,169.60 459.00,169.60 459.00,170.70 475.50,170.70" fill="none" stroke="#b51227" stroke-width="1.20" stroke-linejoin="miter"/>
<line x1="462.00" y1="169.60" x2="462.00" y2="171.80" stroke="#b51227" stroke-width="0.60"/>
<line x1="466.00" y1="169.60" x2="466.00" y2="171.80" stroke="#b51227" stroke-width="0.60"/>
<line x1="470.00" y1="169.60" x2="470.00" y2="171.80" stroke="#b51227" stroke-width="0.60"/>
<line x1="474.00" y1="169.60" x2="474.00" y2="171.80" stroke="#b51227" stroke-width="0.60"/>
<rect x="422.40" y="221.10" width="4.90" height="2.80" fill="#c8343e" stroke="none" stroke-width="1.00"/>
<text x="429.50" y="224.60" font-size="6.00" fill="#262626" stroke="#262626" font-weight="normal" font-style="normal" textLength="10.30" lengthAdjust="spacingAndGlyphs">HCT</text>
<rect x="444.00" y="221.10" width="4.80" height="2.80" fill="#4a5c96" stroke="none" stroke-width="1.00"/>
<text x="451.00" y="224.70" font-size="6.00" fill="#262626" stroke="#262626" font-weight="normal" font-style="normal" textLength="34.50" lengthAdjust="spacingAndGlyphs">Chemotherapy</text>
<text x="405.50" y="242.00" font-size="6.30" fill="#262626" stroke="#262626" font-weight="normal" font-style="normal" textLength="99.80" lengthAdjust="spacingAndGlyphs">Time-dependent HCT (ITT HCT cohort)</text>
<line x1="399.10" y1="251.90" x2="399.10" y2="311.60" stroke="#161616" stroke-width="1.35"/>
<line x1="398.50" y1="311.00" x2="511.50" y2="311.00" stroke="#161616" stroke-width="1.35"/>
<line x1="396.70" y1="254.30" x2="399.10" y2="254.30" stroke="#161616" stroke-width="0.90"/>
<text x="395.00" y="256.40" font-size="5.90" fill="#222" stroke="#222" text-anchor="end">100%</text>
<line x1="396.70" y1="267.88" x2="399.10" y2="267.88" stroke="#161616" stroke-width="0.90"/>
<text x="395.00" y="269.98" font-size="5.90" fill="#222" stroke="#222" text-anchor="end">75%</text>
<line x1="396.70" y1="281.45" x2="399.10" y2="281.45" stroke="#161616" stroke-width="0.90"/>
<text x="395.00" y="283.55" font-size="5.90" fill="#222" stroke="#222" text-anchor="end">50%</text>
<line x1="396.70" y1="295.03" x2="399.10" y2="295.03" stroke="#161616" stroke-width="0.90"/>
<text x="395.00" y="297.13" font-size="5.90" fill="#222" stroke="#222" text-anchor="end">25%</text>
<line x1="396.70" y1="308.60" x2="399.10" y2="308.60" stroke="#161616" stroke-width="0.90"/>
<text x="395.00" y="310.70" font-size="5.90" fill="#222" stroke="#222" text-anchor="end">0%</text>
<line x1="404.50" y1="311.00" x2="404.50" y2="313.20" stroke="#161616" stroke-width="0.90"/>
<text x="404.50" y="320.00" font-size="5.90" fill="#222" stroke="#222" text-anchor="middle">0</text>
<line x1="421.95" y1="311.00" x2="421.95" y2="313.20" stroke="#161616" stroke-width="0.90"/>
<text x="421.95" y="320.00" font-size="5.90" fill="#222" stroke="#222" text-anchor="middle">12</text>
<line x1="439.40" y1="311.00" x2="439.40" y2="313.20" stroke="#161616" stroke-width="0.90"/>
<text x="439.40" y="320.00" font-size="5.90" fill="#222" stroke="#222" text-anchor="middle">24</text>
<line x1="456.85" y1="311.00" x2="456.85" y2="313.20" stroke="#161616" stroke-width="0.90"/>
<text x="456.85" y="320.00" font-size="5.90" fill="#222" stroke="#222" text-anchor="middle">36</text>
<line x1="474.30" y1="311.00" x2="474.30" y2="313.20" stroke="#161616" stroke-width="0.90"/>
<text x="474.30" y="320.00" font-size="5.90" fill="#222" stroke="#222" text-anchor="middle">48</text>
<line x1="491.75" y1="311.00" x2="491.75" y2="313.20" stroke="#161616" stroke-width="0.90"/>
<text x="491.75" y="320.00" font-size="5.90" fill="#222" stroke="#222" text-anchor="middle">60</text>
<line x1="509.20" y1="311.00" x2="509.20" y2="313.20" stroke="#161616" stroke-width="0.90"/>
<text x="509.20" y="320.00" font-size="5.90" fill="#222" stroke="#222" text-anchor="middle">72</text>
<text transform="translate(376.00,281.30) rotate(-90)" x="-18.40" y="0" font-size="7.90" fill="#222" stroke="#222" font-weight="bold" textLength="36.80" lengthAdjust="spacingAndGlyphs">DFS probability</text>
<text x="435.90" y="330.00" font-size="8.00" fill="#222" stroke="#222" font-weight="bold" font-style="normal" textLength="39.30" lengthAdjust="spacingAndGlyphs">Months from CR</text>
<text x="459.80" y="255.00" font-size="6.00" fill="#262626" stroke="#262626" font-weight="normal" font-style="normal" textLength="53.20" lengthAdjust="spacingAndGlyphs">3-Y DFS HCT yes 75%</text>
<text x="482.50" y="261.20" font-size="6.00" fill="#262626" stroke="#262626" font-weight="normal" font-style="normal" textLength="30.50" lengthAdjust="spacingAndGlyphs">HCT no 26%</text>
<text x="403.40" y="299.60" font-size="6.50" fill="#262626" stroke="#262626" font-weight="normal" font-style="normal" textLength="24.60" lengthAdjust="spacingAndGlyphs"><tspan font-style="italic">P</tspan><tspan font-style="normal"> &lt; .0001</tspan></text>
<polygon points="419.40,254.20 437.00,254.40 437.00,258.10 456.00,258.10 456.00,260.00 478.00,260.00 478.00,280.60 460.00,280.60 460.00,273.80 456.00,273.80 456.00,271.30 440.00,271.30 440.00,268.00 431.00,268.00 431.00,265.00 427.00,265.00 427.00,262.50 423.00,262.50 423.00,260.00 419.40,260.00" fill="#8ea1d2"/>
<polygon points="405.00,253.60 411.00,256.00 415.00,262.00 417.50,273.50 425.00,274.50 433.00,276.00 440.00,278.50 447.00,281.00 455.00,283.00 466.00,285.00 466.00,302.80 460.00,302.00 455.00,299.80 449.00,296.50 440.00,293.80 430.00,291.50 420.00,288.40 416.50,286.00 415.50,280.00 414.00,273.00 412.00,266.00 409.00,260.00 405.50,254.50" fill="#e87e78" fill-opacity="0.9"/>
<polyline points="404.30,253.90 419.40,253.90 419.40,256.90 427.00,256.90 427.00,259.40 431.00,259.40 431.00,261.30 434.00,261.30 434.00,263.20 440.00,263.20 440.00,265.60 456.00,265.60 456.00,267.50 460.00,267.50 460.00,271.90 478.00,271.90" fill="none" stroke="#163470" stroke-width="1.20" stroke-linejoin="miter"/>
<line x1="408.00" y1="252.80" x2="408.00" y2="255.00" stroke="#163470" stroke-width="0.60"/>
<line x1="412.00" y1="252.80" x2="412.00" y2="255.00" stroke="#163470" stroke-width="0.60"/>
<line x1="416.00" y1="252.80" x2="416.00" y2="255.00" stroke="#163470" stroke-width="0.60"/>
<line x1="423.00" y1="255.80" x2="423.00" y2="258.00" stroke="#163470" stroke-width="0.60"/>
<line x1="429.00" y1="258.30" x2="429.00" y2="260.50" stroke="#163470" stroke-width="0.60"/>
<line x1="437.00" y1="262.10" x2="437.00" y2="264.30" stroke="#163470" stroke-width="0.60"/>
<line x1="444.00" y1="264.50" x2="444.00" y2="266.70" stroke="#163470" stroke-width="0.60"/>
<line x1="447.00" y1="264.50" x2="447.00" y2="266.70" stroke="#163470" stroke-width="0.60"/>
<line x1="450.00" y1="264.50" x2="450.00" y2="266.70" stroke="#163470" stroke-width="0.60"/>
<line x1="453.00" y1="264.50" x2="453.00" y2="266.70" stroke="#163470" stroke-width="0.60"/>
<line x1="463.00" y1="270.80" x2="463.00" y2="273.00" stroke="#163470" stroke-width="0.60"/>
<line x1="467.00" y1="270.80" x2="467.00" y2="273.00" stroke="#163470" stroke-width="0.60"/>
<line x1="471.00" y1="270.80" x2="471.00" y2="273.00" stroke="#163470" stroke-width="0.60"/>
<line x1="475.00" y1="270.80" x2="475.00" y2="273.00" stroke="#163470" stroke-width="0.60"/>
<polyline points="405.10,254.00 406.90,254.00 406.90,255.15 408.70,255.15 408.70,256.30 411.10,256.30 411.10,259.50 413.50,259.50 413.50,264.30 415.10,264.30 415.10,269.00 415.80,269.00 415.80,273.80 416.60,273.80 416.60,278.50 418.20,278.50 418.20,280.90 420.20,280.90 420.20,281.30 422.20,281.30 422.20,281.70 424.03,281.70 424.03,281.97 425.87,281.97 425.87,282.23 427.70,282.23 427.70,282.50 429.70,282.50 429.70,283.30 431.70,283.30 431.70,284.10 433.27,284.10 433.27,284.50 434.85,284.50 434.85,284.90 436.43,284.90 436.43,285.30 438.00,285.30 438.00,285.70 439.60,285.70 439.60,286.47 441.20,286.47 441.20,287.23 442.80,287.23 442.80,288.00 444.37,288.00 444.37,288.53 445.93,288.53 445.93,289.07 447.50,289.07 447.50,289.60 449.50,289.60 449.50,291.20 451.50,291.20 451.50,292.80 453.50,292.80 453.50,293.60 455.50,293.60 455.50,294.40 457.07,294.40 457.07,294.93 458.63,294.93 458.63,295.47 460.20,295.47 460.20,296.00 462.00,296.00 462.00,296.80 466.60,296.80" fill="none" stroke="#b51227" stroke-width="1.20" stroke-linejoin="miter"/>
<line x1="425.00" y1="280.87" x2="425.00" y2="283.07" stroke="#b51227" stroke-width="0.60"/>
<line x1="434.00" y1="283.40" x2="434.00" y2="285.60" stroke="#b51227" stroke-width="0.60"/>
<line x1="445.00" y1="287.43" x2="445.00" y2="289.63" stroke="#b51227" stroke-width="0.60"/>
<line x1="458.00" y1="293.83" x2="458.00" y2="296.03" stroke="#b51227" stroke-width="0.60"/>
<line x1="464.00" y1="295.70" x2="464.00" y2="297.90" stroke="#b51227" stroke-width="0.60"/>
<rect x="431.20" y="339.20" width="4.80" height="2.80" fill="#c8343e" stroke="none" stroke-width="1.00"/>
<text x="438.80" y="343.00" font-size="6.00" fill="#262626" stroke="#262626" font-weight="normal" font-style="normal" textLength="18.90" lengthAdjust="spacingAndGlyphs">No HCT</text>
<rect x="461.00" y="339.20" width="4.80" height="2.80" fill="#4a5c96" stroke="none" stroke-width="1.00"/>
<text x="468.20" y="343.00" font-size="6.00" fill="#262626" stroke="#262626" font-weight="normal" font-style="normal" textLength="11.00" lengthAdjust="spacingAndGlyphs">HCT</text>
</g>
<rect x="1.5" y="1.5" width="516.5" height="350.5" fill="none" stroke="#d0d0d0" stroke-width="1"/>
<rect x="0.5" y="0.5" width="518.8" height="352.8" fill="none" stroke="#555" stroke-width="1"/>
<line x1="519.5" y1="0" x2="519.5" y2="354" stroke="#333" stroke-width="1"/>
<line x1="0" y1="353.5" x2="520" y2="353.5" stroke="#333" stroke-width="1"/>
</svg>
</body></html>
